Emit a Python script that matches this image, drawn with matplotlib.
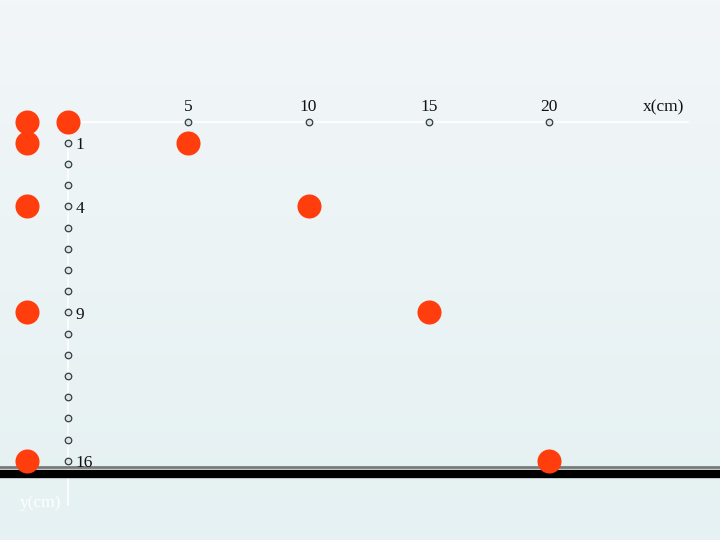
import numpy as np
import matplotlib.pyplot as plt
from matplotlib.colors import LinearSegmentedColormap

# Horizontal positions (cm) and fall distances (cm) of the ball
x_pos = [0, 5, 10, 15, 20]
y_pos = [0, 1, 4, 9, 16]

# Axis ticks
x_ticks = [5, 10, 15, 20]
x_tick_labels = ['5', '10', '15', '20']
y_ticks = list(range(1, 17))
y_tick_labels = {1: '1', 4: '4', 9: '9', 16: '16'}

# column of the free-falling ball, left of the y axis
free_x = -1.70

fig = plt.figure(figsize=(7.2, 5.4), dpi=100)
ax = fig.add_axes([0, 0, 1, 1])
ax.set_xlim(-2.83, 27.11)
ax.set_ylim(19.74, -5.74)
ax.axis('off')

# Background gradient
cmap = LinearSegmentedColormap.from_list('bg', ['#f2f6f8', '#e5f1f2'])
ax.imshow(np.linspace(0, 1, 100).reshape(-1, 1), cmap=cmap, aspect='auto',
          extent=(-2.83, 27.11, 19.74, -5.74), zorder=0)

# axes lines (white)
ax.plot([0, 25.8], [0, 0], color='white', lw=1.2, zorder=1)
ax.plot([0, 0], [0, 18.1], color='white', lw=1.2, zorder=1)

# ground
ax.axhline(16.3, color='#7a7a7a', lw=2, zorder=2)
ax.axhline(16.62, color='black', lw=6, zorder=3)

# tick circles
ax.scatter(x_ticks, [0] * len(x_ticks), s=22, facecolor='#e0e4e4', edgecolor='#2f3f44',
           lw=0.9, zorder=4)
ax.scatter([0] * len(y_ticks), y_ticks, s=22, facecolor='#e0e4e4', edgecolor='#2f3f44',
           lw=0.9, zorder=4)

font = {'family': 'Liberation Serif', 'size': 12.5, 'color': '#111111'}
for t, lab in zip(x_ticks, x_tick_labels):
    ax.text(t, -0.3, lab, ha='center', va='bottom', **font)
for t, lab in y_tick_labels.items():
    ax.text(0.3, t + 0.1, lab, ha='left', va='center', **font)

ax.text(23.9, -0.3, 'x(cm)', ha='left', va='bottom', **font)
ax.text(-2.0, 18.0, 'y(cm)', ha='left', va='center', family='Liberation Serif',
        size=12.5, color='white')

# ball positions
ball = '#ff3d0d'
ax.scatter(x_pos, y_pos, s=300, color=ball, zorder=5, lw=0)
ax.scatter([free_x] * len(y_pos), y_pos, s=300, color=ball, zorder=5, lw=0)

fig.savefig('out.png', dpi=100)
